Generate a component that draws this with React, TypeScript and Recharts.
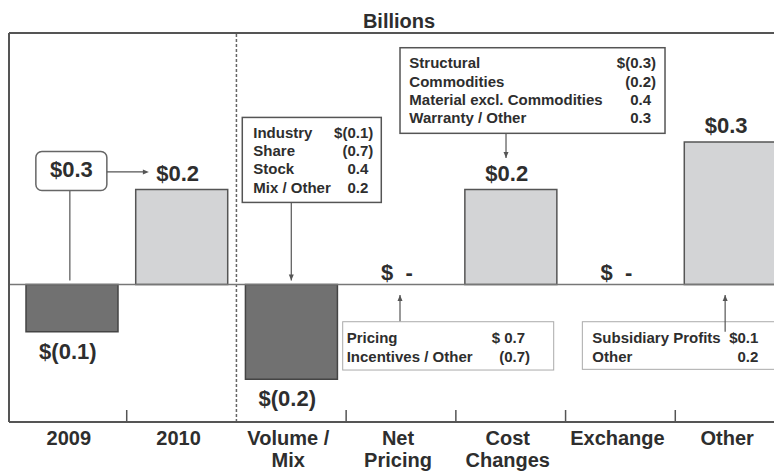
import React from "react"
import { BarChart, Bar, XAxis, YAxis, Cell, ReferenceLine, ReferenceDot } from "recharts"

// bridge categories and results, billions
const categories = ["2009", "2010", "Volume / Mix", "Net Pricing", "Cost Changes", "Exchange", "Other"]
const categoryLines = [["2009"], ["2010"], ["Volume /", "Mix"], ["Net", "Pricing"], ["Cost", "Changes"], ["Exchange"], ["Other"]]
const values = [-0.1, 0.2, -0.2, 0, 0.2, 0, 0.3]
const valueLabels = ["$(0.1)", "$0.2", "$(0.2)", "$  -", "$0.2", "$  -", "$0.3"]

const priorYearLabel = "$0.3"

const volumeMixItems = ["Industry", "Share", "Stock", "Mix / Other"]
const volumeMixValues = ["$(0.1)", "(0.7)", "0.4", "0.2"]

const costItems = ["Structural", "Commodities", "Material excl. Commodities", "Warranty / Other"]
const costValues = ["$(0.3)", "(0.2)", "0.4", "0.3"]

const pricingItems = ["Pricing", "Incentives / Other"]
const pricingValues = ["$ 0.7", "(0.7)"]

const otherItems = ["Subsidiary Profits", "Other"]
const otherValues = ["$0.1", "0.2"]

const data = categories.map((name, i) => ({ name, value: values[i], lines: categoryLines[i] }))

const FONT = '"Liberation Sans", Arial, sans-serif'
const INK = "#2e2e2e"
const FRAME = "#555"

function CategoryTick(props: any) {
  const { x, y, payload, index } = props
  const half = payload.offset ?? 0
  const lines = categoryLines[index] ?? [String(payload.value)]
  // boundary tick on the right side of each band; the 2010|Volume one is the dashed divider
  const showTick = index < categories.length - 1 && index !== 1
  return (
    <g>
      {showTick && <line x1={x + half} x2={x + half} y1={y - 12} y2={y} stroke={FRAME} strokeWidth={1.5} />}
      {lines.map((t, i) => (
        <text key={i} x={x - 3} y={y + 23 + i * 22} textAnchor="middle" fontFamily={FONT} fontWeight="bold" fontSize={20} fill={INK}>
          {t}
        </text>
      ))}
    </g>
  )
}

const valueLabel = (text: string, v: number) => (p: any) => {
  const dy = v > 0 ? -9 : v < 0 ? 27 : -4
  return (
    <text x={p.cx - 4} y={p.cy + dy} textAnchor="middle" xmlSpace="preserve" style={{ whiteSpace: "pre" }}
      fontFamily={FONT} fontWeight="bold" fontSize={22} fill={INK}>
      {text}
    </text>
  )
}

function arrow(x: number, y: number, dir: "up" | "down" | "right") {
  if (dir === "right") return `${x},${y} ${x - 6},${y - 2.5} ${x - 6},${y + 2.5}`
  if (dir === "down") return `${x},${y} ${x - 2.5},${y - 6} ${x + 2.5},${y - 6}`
  return `${x},${y} ${x - 2.5},${y + 6} ${x + 2.5},${y + 6}`
}

type NoteProps = {
  box: [number, number, number, number]
  textX: number
  valueRight: number
  firstRow: number
  items: string[]
  vals: string[]
  border: string
  borderWidth: number
  line: [number, number, number]
  dir: "up" | "down"
  lineOnTop?: boolean
}

const breakdown = (n: NoteProps) => (p: any) => {
  const { cx, cy } = p
  const [bx, by, bw, bh] = n.box
  const [lx, ly1, ly2] = n.line
  const tipY = n.dir === "down" ? Math.max(ly1, ly2) : Math.min(ly1, ly2)
  const connector = (
    <g>
      <line x1={cx + lx} x2={cx + lx} y1={cy + ly1} y2={cy + ly2} stroke="#555" strokeWidth={1.2} />
      <polygon points={arrow(cx + lx, cy + tipY, n.dir)} fill="#555" />
    </g>
  )
  return (
    <g>
      {!n.lineOnTop && connector}
      <rect x={cx + bx} y={cy + by} width={bw} height={bh} fill="#fff" stroke={n.border} strokeWidth={n.borderWidth} />
      {n.items.map((t, i) => (
        <g key={i}>
          <text x={cx + n.textX} y={cy + n.firstRow + i * 18.3} fontFamily={FONT} fontWeight="bold" fontSize={15} fill={INK}>
            {t}
          </text>
          <text x={cx + n.valueRight - (n.vals[i].endsWith(")") ? 0 : 5)} y={cy + n.firstRow + i * 18.3}
            textAnchor="end" fontFamily={FONT} fontWeight="bold" fontSize={15} fill={INK}>
            {n.vals[i]}
          </text>
        </g>
      ))}
      {n.lineOnTop && connector}
    </g>
  )
}

const priorYearNote = (p: any) => {
  const { cx, cy } = p
  return (
    <g>
      <line x1={cx - 2} x2={cx - 2} y1={cy - 94} y2={cy - 4} stroke="#555" strokeWidth={1.2} />
      <rect x={cx - 36} y={cy - 133} width={71} height={39} rx={6} fill="#fff" stroke="#666" strokeWidth={1.5} />
      <text x={cx - 0.5} y={cy - 107} textAnchor="middle" fontFamily={FONT} fontWeight="bold" fontSize={22} fill={INK}>
        {priorYearLabel}
      </text>
      <line x1={cx + 35} x2={cx + 72} y1={cy - 112.5} y2={cy - 112.5} stroke="#555" strokeWidth={1.2} />
      <polygon points={arrow(cx + 77, cy - 112.5, "right")} fill="#555" />
    </g>
  )
}

export default function App() {
  return (
    <div style={{ position: "absolute", left: 0, top: 0, width: 774, height: 472, overflow: "hidden", background: "#fff" }}>
      <BarChart width={800} height={472} data={data} margin={{ top: 33, right: 11, bottom: 0, left: 0 }}>
        <XAxis
          xAxisId="cat"
          dataKey="name"
          padding={{ left: 8, right: 4 }}
          interval={0}
          tickLine={false}
          tickSize={0}
          tickMargin={0}
          tick={<CategoryTick />}
          axisLine={{ stroke: FRAME, strokeWidth: 2 }}
          height={50}
        />
        <YAxis domain={[-0.29, 0.53]} allowDataOverflow width={9} tick={false} tickLine={false} axisLine={{ stroke: FRAME, strokeWidth: 2 }} />
        <ReferenceLine
          xAxisId="cat"
          y={0.53}
          stroke={FRAME}
          strokeWidth={2}
          label={{ value: "Billions", position: "top", offset: 5, fontFamily: FONT, fontWeight: "bold", fontSize: 20, fill: INK }}
        />
        <ReferenceLine xAxisId="cat" x="2010" position="end" stroke="#666" strokeWidth={1.5} strokeDasharray="3 2" />
        <Bar xAxisId="cat" dataKey="value" barSize={92} isAnimationActive={false} strokeWidth={1.5}>
          {data.map((d, i) => (
            <Cell key={i} fill={d.value < 0 ? "#717171" : "#d3d4d6"} stroke={d.value < 0 ? "#444" : "#555"} />
          ))}
        </Bar>
        <ReferenceLine xAxisId="cat" y={0} stroke="#777" strokeWidth={1.5} />
        {data.map((d, i) => (
          <ReferenceDot key={d.name} xAxisId="cat" x={d.name} y={d.value} r={0} shape={valueLabel(valueLabels[i], d.value)} />
        ))}
        <ReferenceDot xAxisId="cat" x="2009" y={0} r={0} shape={priorYearNote} />
        <ReferenceDot
          xAxisId="cat"
          x="Volume / Mix"
          y={0}
          r={0}
          shape={breakdown({
            box: [-49, -167, 139, 85], textX: -38, valueRight: 82, firstRow: -146.7,
            items: volumeMixItems, vals: volumeMixValues, border: "#555", borderWidth: 1.5,
            line: [0, -82, -4], dir: "down",
          })}
        />
        <ReferenceDot
          xAxisId="cat"
          x="Cost Changes"
          y={0}
          r={0}
          shape={breakdown({
            box: [-110.7, -236.7, 265, 85.6], textX: -101.4, valueRight: 145.3, firstRow: -216.1,
            items: costItems, vals: costValues, border: "#555", borderWidth: 1.5,
            line: [-4.7, -151, -126.4], dir: "down",
          })}
        />
        <ReferenceDot
          xAxisId="cat"
          x="Net Pricing"
          y={0}
          r={0}
          shape={breakdown({
            box: [-58.3, 37.3, 211, 48.3], textX: -54.3, valueRight: 129, firstRow: 59,
            items: pricingItems, vals: pricingValues, border: "#aaa", borderWidth: 1,
            line: [-1, 37.3, 10.6], dir: "up",
          })}
        />
        <ReferenceDot
          xAxisId="cat"
          x="Other"
          y={0}
          r={0}
          shape={breakdown({
            box: [-147.8, 37.3, 220, 47.6], textX: -137.8, valueRight: 33.2, firstRow: 59,
            items: otherItems, vals: otherValues, border: "#aaa", borderWidth: 1,
            line: [-5, 47.3, 10.6], dir: "up", lineOnTop: true,
          })}
        />
      </BarChart>
    </div>
  )
}
